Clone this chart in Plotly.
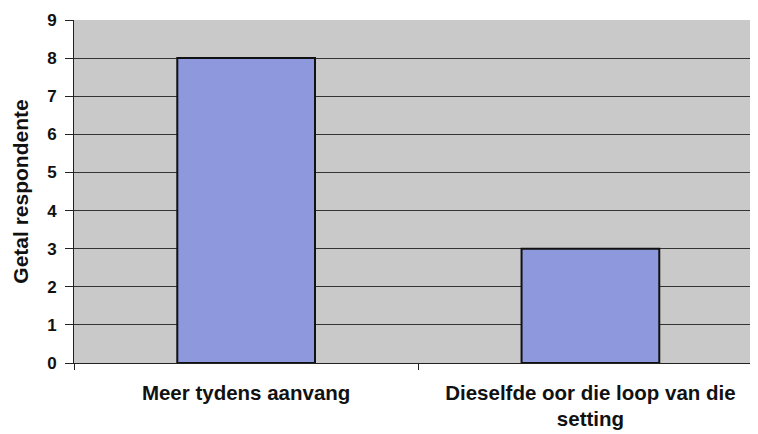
import plotly.graph_objects as go

categories = ["Meer tydens aanvang", "Dieselfde oor die loop van die<br>setting"]
values = [8, 3]
y_ticks = list(range(0, 10))

fig = go.Figure()
fig.add_trace(go.Bar(
    x=categories, y=values,
    marker=dict(color="#8e98dc", line=dict(color="#111111", width=2)),
    width=0.4,
))

fig.update_layout(
    width=758, height=426,
    margin=dict(l=66, r=0, t=12, b=71),
    paper_bgcolor="white",
    plot_bgcolor="#c9c9c9",
    showlegend=False,
    font=dict(family="Liberation Sans, Arial, sans-serif", color="#111111"),
)
fig.update_xaxes(
    range=[-0.5, 1.51],
    showline=True, linecolor="#222222", linewidth=1,
    ticks="outside", tickson="boundaries", ticklen=6, tickcolor="#222222",
    tickfont=dict(size=20.5, weight="bold"),
    ticklabelstandoff=11,
    showgrid=False,
)
fig.update_yaxes(
    range=[0, 9], tickvals=y_ticks,
    showline=True, linecolor="#222222", linewidth=1,
    ticks="outside", ticklen=8, tickcolor="#222222",
    tickfont=dict(size=17, weight="bold"),
    ticklabelstandoff=5,
    showgrid=True, gridcolor="#333333", gridwidth=1,
    zeroline=False,
    title=dict(text="Getal respondente", font=dict(size=21, weight="bold"), standoff=12),
)

fig.write_html("out.html")
